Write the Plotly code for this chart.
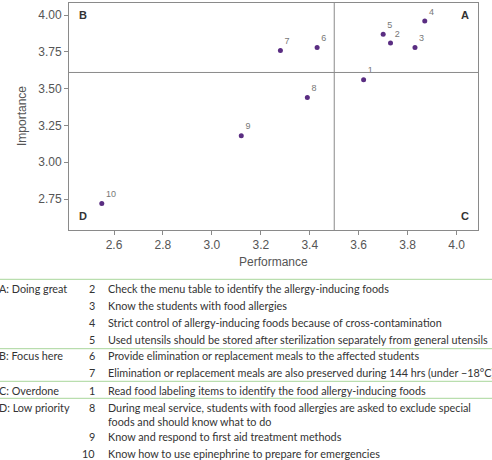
import plotly.graph_objects as go

# ---- data ----
items = ["1", "2", "3", "4", "5", "6", "7", "8", "9", "10"]
performance = [3.62, 3.73, 3.83, 3.87, 3.70, 3.43, 3.28, 3.39, 3.12, 2.55]
importance = [3.56, 3.81, 3.78, 3.96, 3.87, 3.78, 3.76, 3.44, 3.18, 2.72]
x_ticks = [2.6, 2.8, 3.0, 3.2, 3.4, 3.6, 3.8, 4.0]
y_ticks = [2.75, 3.00, 3.25, 3.50, 3.75, 4.00]
perf_mean = 3.5
imp_mean = 3.61
quadrants = ["A", "B", "C", "D"]

table_groups = ["A: Doing great", "B: Focus here", "C: Overdone", "D: Low priority"]
table_rows = [
    (0, "2", ["Check the menu table to identify the allergy-inducing foods"]),
    (0, "3", ["Know the students with food allergies"]),
    (0, "4", ["Strict control of allergy-inducing foods because of cross-contamination"]),
    (0, "5", ["Used utensils should be stored after sterilization separately from general utensils"]),
    (1, "6", ["Provide elimination or replacement meals to the affected students"]),
    (1, "7", ["Elimination or replacement meals are also preserved during 144 hrs (under \u221218\u00b0C)"]),
    (2, "1", ["Read food labeling items to identify the food allergy-inducing foods"]),
    (3, "8", ["During meal service, students with food allergies are asked to exclude special",
              "foods and should know what to do"]),
    (3, "9", ["Know and respond to first aid treatment methods"]),
    (3, "10", ["Know how to use epinephrine to prepare for emergencies"]),
]

# ---- layout geometry (pixels) ----
W, H = 492, 460
L, R, T, B = 69, 478, 3, 230
XR = [2.416, 4.0875]
YR = [2.54, 4.082]


def px_x(px):
    return (px - L) / (R - L)


def px_y(py):
    return (B - py) / (B - T)


fig = go.Figure()
fig.add_trace(go.Scatter(
    x=performance, y=importance, mode="markers+text",
    text=items, textposition="top right",
    textfont=dict(family="Liberation Sans, Arial", size=9, color="#777777"),
    marker=dict(color="#5a2d82", size=5),
    hoverinfo="skip", showlegend=False, cliponaxis=False,
))

axis_common = dict(showgrid=False, zeroline=False, showline=True, mirror=True,
                   linecolor="#8a8a8a", linewidth=1, ticks="outside", ticklen=4,
                   tickcolor="#8a8a8a",
                   tickfont=dict(family="Liberation Sans, Arial", size=12, color="#555555"))
fig.update_xaxes(range=XR, tickvals=x_ticks, ticktext=[f"{v:.1f}" for v in x_ticks], **axis_common)
fig.update_yaxes(range=YR, tickvals=y_ticks, ticktext=[f"{v:.2f}" for v in y_ticks], **axis_common)

shapes = [
    dict(type="line", xref="x", yref="paper", x0=perf_mean, x1=perf_mean, y0=0, y1=1,
         line=dict(color="#8a8a8a", width=1)),
    dict(type="line", xref="paper", yref="y", x0=0, x1=1, y0=imp_mean, y1=imp_mean,
         line=dict(color="#8a8a8a", width=1)),
]

annotations = []
# quadrant letters
qpos = {"A": (465, 15), "B": (83, 15), "C": (465, 216), "D": (83, 216)}
for q in quadrants:
    px, py = qpos[q]
    annotations.append(dict(text=f"<b>{q}</b>", x=px_x(px), y=px_y(py), xref="paper", yref="paper",
                            showarrow=False, xanchor="center", yanchor="middle",
                            font=dict(family="Liberation Sans, Arial", size=11, color="#333333")))
# axis titles
annotations.append(dict(text="Performance", x=px_x(273.5), y=px_y(262), xref="paper", yref="paper",
                        showarrow=False, xanchor="center", yanchor="middle",
                        font=dict(family="Liberation Sans, Arial", size=12, color="#555555")))
annotations.append(dict(text="Importance", x=px_x(22), y=px_y(116), xref="paper", yref="paper",
                        showarrow=False, xanchor="center", yanchor="middle", textangle=-90,
                        font=dict(family="Liberation Sans, Arial", size=12, color="#555555")))

# table
tfont = dict(family="Lato, Noto Sans", size=10.8, color="#333333")
row_y = [288.3, 305, 322, 339, 356, 372.3, 390, 407.7, 436.7, 453.3]
line_step = 13.6
sep_y = [279.3, 348.7, 381.3, 398.3]
for sy in sep_y:
    shapes.append(dict(type="line", xref="paper", yref="paper", x0=px_x(0), x1=px_x(W),
                       y0=px_y(sy), y1=px_y(sy), line=dict(color="#a8d69a", width=1)))
seen = set()
for (g, num, lines), ry in zip(table_rows, row_y):
    if g not in seen:
        seen.add(g)
        annotations.append(dict(text=table_groups[g], x=px_x(-3), y=px_y(ry), xref="paper", yref="paper",
                                showarrow=False, xanchor="left", yanchor="middle", font=tfont))
    annotations.append(dict(text=num, x=px_x(97), y=px_y(ry), xref="paper", yref="paper",
                            showarrow=False, xanchor="right", yanchor="middle", font=tfont))
    for k, ln in enumerate(lines):
        annotations.append(dict(text=ln, x=px_x(106), y=px_y(ry + k * line_step), xref="paper", yref="paper",
                                showarrow=False, xanchor="left", yanchor="middle", font=tfont))

fig.update_layout(
    width=W, height=H, margin=dict(l=L, r=W - R, t=T, b=H - B, autoexpand=False),
    paper_bgcolor="white", plot_bgcolor="white",
    shapes=shapes, annotations=annotations,
)

fig.write_html("out.html")
